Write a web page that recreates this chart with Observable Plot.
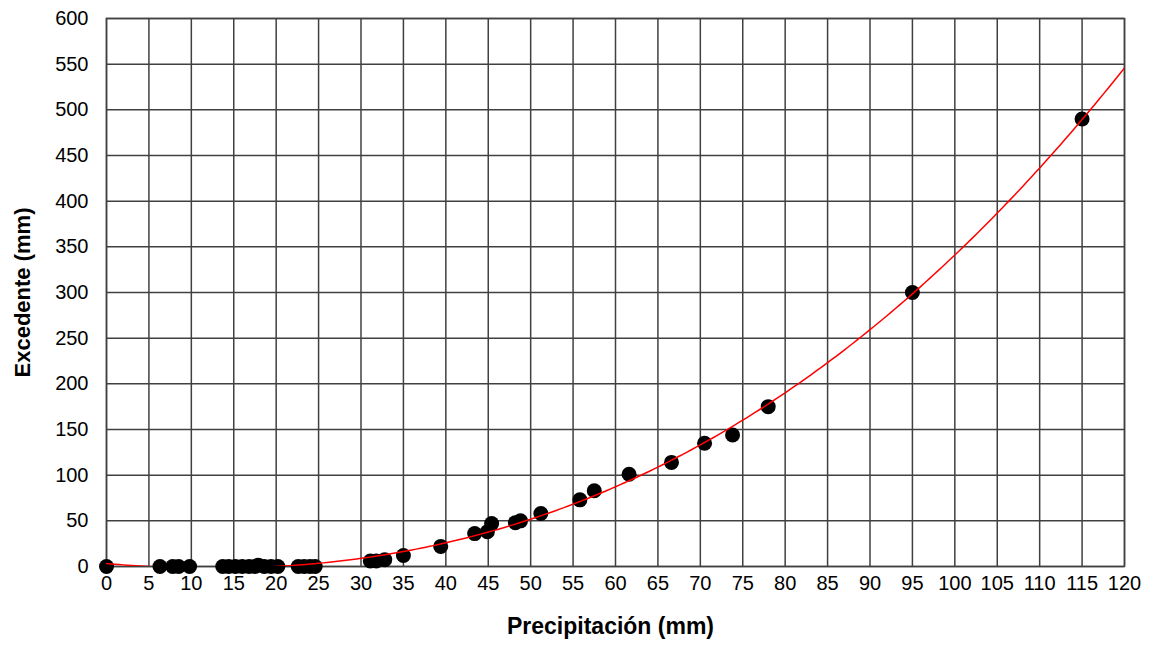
<!DOCTYPE html>
<html><head><meta charset="utf-8">
<script src="https://cdn.jsdelivr.net/npm/d3@7"></script>
<script src="https://cdn.jsdelivr.net/npm/@observablehq/plot@0.6"></script>
<style>body{margin:0;background:#fff}</style>
</head><body><div id="chart"></div>
<script>
const precipitacion = [0,6.3,7.8,8.5,9.8,13.7,14.4,15.2,16.0,16.8,17.5,17.9,18.6,19.4,20.2,22.6,23.3,24.0,24.6,31.1,31.8,32.8,35.0,39.4,43.4,44.9,45.4,48.2,48.8,51.2,55.8,57.5,61.6,66.6,70.5,73.8,78.0,95.0,115.0];
const excedente =     [0,0,0,0,0,0,0,0,0,0,0,1.5,0,0,0,0,0,0,0,6,6,7.5,12,22,36,38,47,48,50,58,73,83,101,114,135,144,175,300,490];
const xTicks = [0,5,10,15,20,25,30,35,40,45,50,55,60,65,70,75,80,85,90,95,100,105,110,115,120];
const yTicks = [0,50,100,150,200,250,300,350,400,450,500,550,600];
const xTitle = "Precipitación (mm)";
const yTitle = "Excedente (mm)";

const data = precipitacion.map((p,i)=>({p, e: excedente[i]}));

// polynomial (order 3) least-squares trend line computed from the data
function polyfit(xs, ys, deg){
  const n = deg+1;
  const A = Array.from({length:n},()=>new Array(n+1).fill(0));
  for(let k=0;k<xs.length;k++){
    for(let i=0;i<n;i++){
      for(let j=0;j<n;j++) A[i][j]+=Math.pow(xs[k],i+j);
      A[i][n]+=ys[k]*Math.pow(xs[k],i);
    }
  }
  for(let i=0;i<n;i++){
    let m=i; for(let r=i+1;r<n;r++) if(Math.abs(A[r][i])>Math.abs(A[m][i])) m=r;
    [A[i],A[m]]=[A[m],A[i]];
    for(let r=0;r<n;r++){ if(r===i) continue; const f=A[r][i]/A[i][i]; for(let c=i;c<=n;c++) A[r][c]-=f*A[i][c]; }
  }
  return A.map((row,i)=>row[n]/row[i]);
}
const ev = (c,x)=>c.reduce((s,a,i)=>s+a*Math.pow(x,i),0);
const c3 = polyfit(precipitacion, excedente, 3);
const trend = d3.range(0,120.01,0.5).map(x=>({p:x, e:ev(c3,x)}));

const grid = "#404040";
const chart = Plot.plot({
  width:1149, height:646,
  marginLeft:106, marginRight:25, marginTop:18, marginBottom:80,
  style:{fontFamily:"'Liberation Sans', Arial, sans-serif", fontSize:"20px", color:"#000", background:"#fff"},
  x:{domain:[0,120]},
  y:{domain:[0,600]},
  marks:[
    Plot.gridX(xTicks,{stroke:grid, strokeOpacity:1, strokeWidth:1.5}),
    Plot.gridY(yTicks,{stroke:grid, strokeOpacity:1, strokeWidth:1.5}),
    Plot.frame({stroke:grid, strokeWidth:1.5}),
    Plot.axisX(xTicks,{tickSize:0, tickPadding:9, label:null, fontSize:20}),
    Plot.axisY(yTicks,{tickSize:0, tickPadding:18, label:null, fontSize:20}),
    Plot.dot(data,{x:"p", y:"e", r:7.5, fill:"#000", stroke:null}),
    Plot.line(trend,{x:"p", y:"e", stroke:"#ff0000", strokeWidth:1.5, clip:true}),
    Plot.text([xTitle],{frameAnchor:"bottom", dy:67, dx:-5, fontWeight:"bold", fontSize:23, textAnchor:"middle"}),
    Plot.text([yTitle],{frameAnchor:"left", dx:-84, rotate:-90, fontWeight:"bold", fontSize:22, textAnchor:"middle"})
  ]
});
document.getElementById("chart").appendChild(chart);
</script></body></html>
